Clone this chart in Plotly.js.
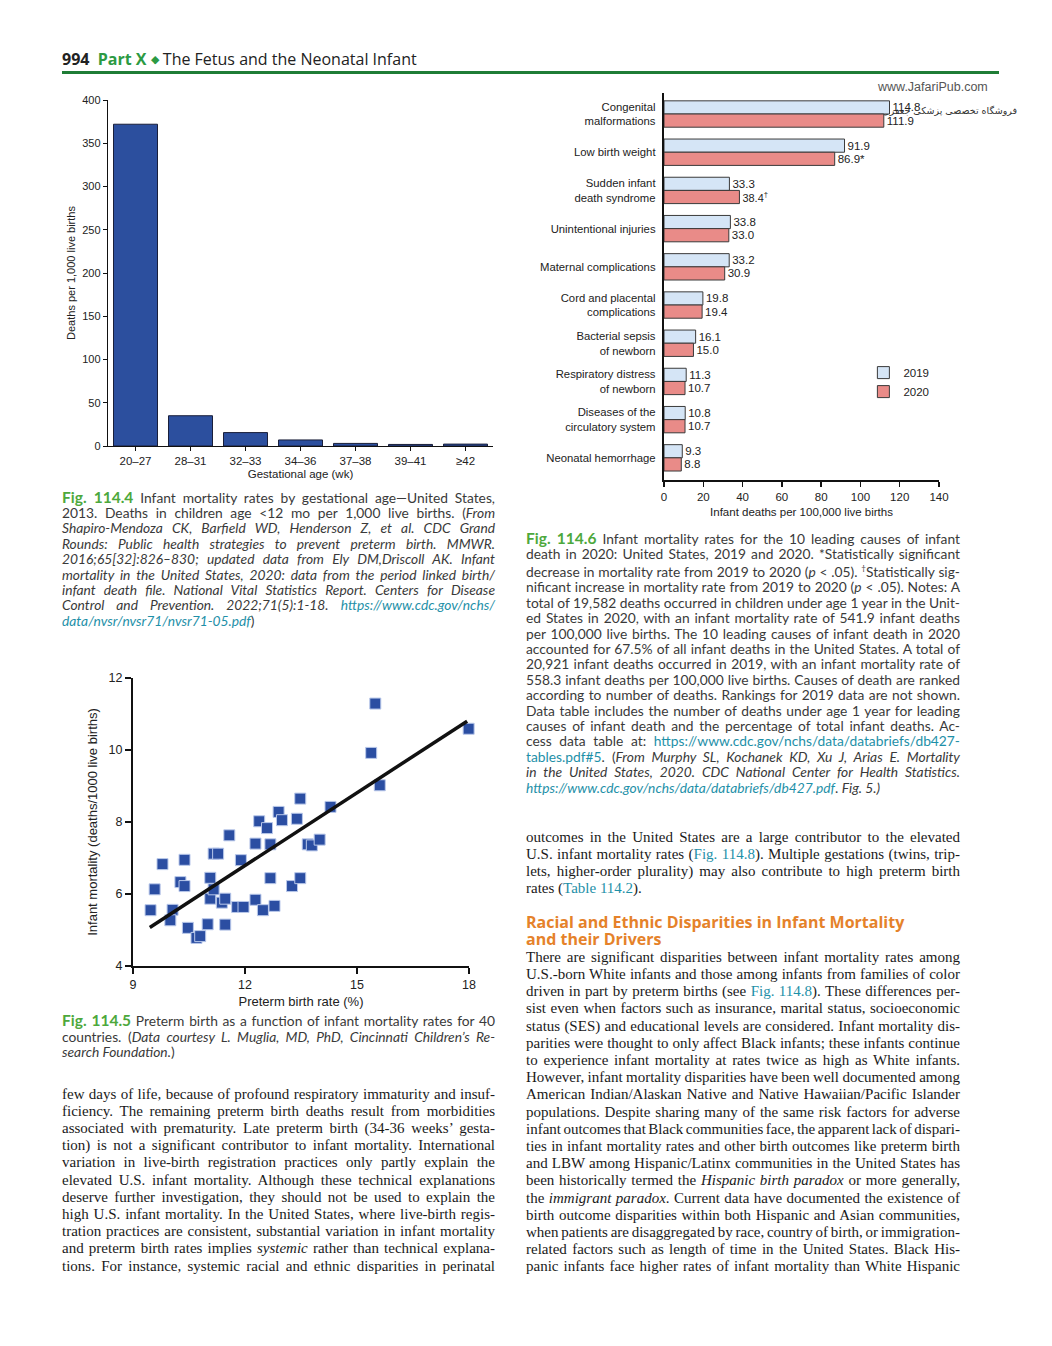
<!DOCTYPE html>
<html><head><meta charset="utf-8">
<script src="https://cdn.plot.ly/plotly-3.0.1.min.js"></script>
<style>
body{margin:0;background:#fff;}
#page{position:relative;width:1052px;height:1346px;overflow:hidden;background:#fff;}
.abs{position:absolute;}
.blk{position:absolute;}
.ln{white-space:nowrap;overflow:visible;}
.cap{font-family:Lato,"Open Sans",sans-serif;font-size:13.8px;color:#3a3a3a;line-height:15.4px;}
.body{font-family:"Liberation Serif","DejaVu Serif",serif;font-size:15px;color:#1a1a1a;line-height:17.2px;}
.fg{color:#4da83c;font-weight:700;font-size:15.5px;}
.lk{color:#1e90a8;}
.head{font-family:"Open Sans",Lato,sans-serif;font-weight:700;font-size:16px;color:#e5822a;line-height:17px;}
</style>
</head><body>
<div id="page">
  <div class="abs" style="left:62px;top:48px;font-family:'Open Sans',Lato,sans-serif;font-size:16px;color:#222;white-space:nowrap;">
    <b>994</b>&nbsp;&nbsp;<span style="color:#2c9a43;font-weight:700;">Part X</span> <span style="color:#2c9a43;font-size:11px;vertical-align:2px;">◆</span> The Fetus and the Neonatal Infant
  </div>
  <div class="abs" style="left:62px;top:71px;width:937px;height:3px;background:#1f7d36;"></div>
  <div class="abs" style="left:878px;top:80px;font-family:'Liberation Sans',Arial,sans-serif;font-size:12.5px;color:#555;">www.JafariPub.com</div>
  <div class="abs" dir="rtl" style="left:855px;top:105px;width:162px;font-family:'DejaVu Sans',sans-serif;font-size:9.5px;color:#333;white-space:nowrap;">فروشگاه تخصصی پزشکی جعفری نوین</div>

  <div id="c1" class="abs" style="left:60px;top:85px;width:440px;height:400px;"></div>
  <div id="c2" class="abs" style="left:530px;top:85px;width:430px;height:445px;"></div>
  <div id="c3" class="abs" style="left:70px;top:665px;width:420px;height:345px;"></div>

  <div id="t1" class="blk cap" style="left:62px;top:489.6px;width:433px;"></div>
  <div id="t2" class="blk cap" style="left:526px;top:530.6px;width:434px;"></div>
  <div id="t3" class="blk cap" style="left:62px;top:1013.3px;width:433px;"></div>
  <div id="t4" class="blk body" style="left:62px;top:1085.6px;width:433px;"></div>
  <div id="t5" class="blk body" style="left:526px;top:828.7px;width:434px;"></div>
  <div id="t6" class="blk head" style="left:526px;top:913.8px;width:434px;"></div>
  <div id="t7" class="blk body" style="left:526px;top:948.7px;width:434px;"></div>
</div>
<script>
// ---------- Fig 114.4 data ----------
const gestCategories = ['20–27','28–31','32–33','34–36','37–38','39–41','≥42'];
const gestDeaths = [372, 35, 15.5, 7, 3, 1.8, 2.2];
const gestYTicks = [0,50,100,150,200,250,300,350,400];

// ---------- Fig 114.6 data ----------
const causes = ['Congenital<br>malformations','Low birth weight','Sudden infant<br>death syndrome','Unintentional injuries','Maternal complications','Cord and placental<br>complications','Bacterial sepsis<br>of newborn','Respiratory distress<br>of newborn','Diseases of the<br>circulatory system','Neonatal hemorrhage'];
const rate2019 = [114.8, 91.9, 33.3, 33.8, 33.2, 19.8, 16.1, 11.3, 10.8, 9.3];
const rate2020 = [111.9, 86.9, 38.4, 33.0, 30.9, 19.4, 15.0, 10.7, 10.7, 8.8];
const marks2020 = ['', '*', '<sup>†</sup>', '', '', '', '', '', '', ''];
const causeXTicks = [0,20,40,60,80,100,120,140];

// ---------- Fig 114.5 data ----------
const pretermRate = [9.47, 9.58, 9.79, 10.06, 10.0, 10.27, 10.38, 10.38, 10.47, 10.70, 10.80, 11.0, 11.07, 11.07, 11.16, 11.16, 11.28, 11.38, 11.47, 11.47, 11.58, 11.79, 11.89, 11.96, 12.28, 12.28, 12.38, 12.48, 12.59, 12.68, 12.68, 12.79, 12.90, 12.99, 13.26, 13.39, 13.48, 13.48, 13.68, 13.79, 14.0, 14.29, 15.38, 15.49, 15.61, 17.99];
const infantMortality = [5.55, 6.13, 6.83, 5.56, 5.27, 6.33, 6.22, 6.95, 5.06, 4.78, 4.83, 5.16, 6.45, 5.87, 6.13, 7.12, 7.12, 5.76, 5.87, 5.15, 7.63, 5.64, 6.94, 5.64, 5.84, 7.40, 8.02, 5.55, 7.83, 7.38, 6.44, 5.67, 8.28, 8.05, 6.22, 8.09, 8.65, 6.44, 7.38, 7.35, 7.51, 8.42, 9.92, 11.29, 9.02, 10.59];
const fitX = [9.45, 17.95];
const fitY = [5.07, 10.8];
const scatterXTicks = [9,12,15,18];
const scatterYTicks = [4,6,8,10,12];

const FONT = 'Liberation Sans, Arial, sans-serif';
const cfg = {staticPlot:true, displayModeBar:false};

// Chart 1
Plotly.newPlot('c1', [{
  type:'bar', x:gestCategories, y:gestDeaths,
  marker:{color:'#2c4f9e', line:{color:'#1a1f3a', width:1}},
  width:0.8
}], {
  width:440, height:400, margin:{l:48, r:7, t:15, b:39},
  paper_bgcolor:'rgba(0,0,0,0)', plot_bgcolor:'rgba(0,0,0,0)',
  font:{family:FONT, size:11, color:'#222'},
  showlegend:false,
  xaxis:{type:'category', range:[-0.5,6.5], showline:true, linecolor:'#111', linewidth:1.2,
    ticks:'outside', ticklen:4, tickcolor:'#111', showgrid:false, zeroline:false,
    tickfont:{size:11.5}, title:{text:'Gestational age (wk)', font:{size:11.5}, standoff:4}},
  yaxis:{range:[0,400], tickvals:gestYTicks, showline:true, linecolor:'#111', linewidth:1.2,
    ticks:'outside', ticklen:4, tickcolor:'#111', showgrid:false, zeroline:false,
    tickfont:{size:11}, title:{text:'Deaths per 1,000 live births', font:{size:11}, standoff:4}}
}, cfg);

// Chart 2
Plotly.newPlot('c2', [
  {type:'bar', orientation:'h', name:'2019', y:causes, x:rate2019,
   text:rate2019.map(v=>v.toFixed(1)), textposition:'outside', cliponaxis:false,
   textfont:{size:11.5, color:'#222'},
   marker:{color:'#d5e5f6', line:{color:'#3a3a3a', width:1}}},
  {type:'bar', orientation:'h', name:'2020', y:causes, x:rate2020,
   text:rate2020.map((v,i)=>v.toFixed(1)+marks2020[i]), textposition:'outside', cliponaxis:false,
   textfont:{size:11.5, color:'#222'},
   marker:{color:'#e98b88', line:{color:'#3a3a3a', width:1}}}
], {
  width:430, height:445, margin:{l:134, r:21, t:8, b:50},
  paper_bgcolor:'rgba(0,0,0,0)', plot_bgcolor:'rgba(0,0,0,0)',
  font:{family:FONT, size:11, color:'#222'},
  barmode:'group', bargap:0.31, bargroupgap:0,
  legend:{x:0.725, y:0.315, xanchor:'left', yanchor:'top', font:{size:11.5}, tracegroupgap:0, itemwidth:30, bgcolor:'rgba(0,0,0,0)'},
  xaxis:{range:[0,140], tickvals:causeXTicks, showline:true, linecolor:'#111', linewidth:2,
    ticks:'outside', ticklen:5, tickwidth:1.5, tickcolor:'#111', showgrid:false, zeroline:false,
    tickfont:{size:11.5},
    title:{text:'Infant deaths per 100,000 live births', font:{size:11.5}, standoff:6}},
  yaxis:{type:'category', range:[9.58,-0.55], showline:true, linecolor:'#111', linewidth:2.2,
    ticks:'', showgrid:false, zeroline:false, ticklabelstandoff:4, tickfont:{size:11.3}}
}, cfg);

// Chart 3
Plotly.newPlot('c3', [
  {type:'scatter', mode:'markers', x:pretermRate, y:infantMortality, cliponaxis:false,
   marker:{symbol:'square', size:11, color:'#2b4ea2', line:{color:'#b9c8ea', width:1}}},
  {type:'scatter', mode:'lines', x:fitX, y:fitY, cliponaxis:false,
   line:{color:'#111', width:3.5}}
], {
  width:420, height:345, margin:{l:63, r:21, t:13, b:44},
  paper_bgcolor:'rgba(0,0,0,0)', plot_bgcolor:'rgba(0,0,0,0)',
  font:{family:FONT, size:12.5, color:'#222'},
  showlegend:false,
  xaxis:{range:[9,18], tickvals:scatterXTicks, showline:true, linecolor:'#111', linewidth:2,
    ticks:'outside', ticklen:6, tickwidth:2, tickcolor:'#111', showgrid:false, zeroline:false,
    title:{text:'Preterm birth rate (%)', font:{size:13}, standoff:6}},
  yaxis:{range:[4,12], tickvals:scatterYTicks, showline:true, linecolor:'#111', linewidth:2,
    ticks:'outside', ticklen:6, tickwidth:2, tickcolor:'#111', showgrid:false, zeroline:false,
    title:{text:'Infant mortality (deaths/1000 live births)', font:{size:13}, standoff:8}}
}, cfg);

// ---------- text ----------
const t1 = [
 '<span class="fg">Fig. 114.4</span> Infant mortality rates by gestational age—United States,',
 '2013. Deaths in children age &lt;12 mo per 1,000 live births. (<i>From</i>',
 '<i>Shapiro-Mendoza CK, Barfield WD, Henderson Z, et al. CDC Grand</i>',
 '<i>Rounds: Public health strategies to prevent preterm birth. MMWR.</i>',
 '<i>2016;65[32]:826–830; updated data from Ely DM,Driscoll AK. Infant</i>',
 '<i>mortality in the United States, 2020: data from the period linked birth/</i>',
 '<i>infant death file. National Vital Statistics Report. Centers for Disease</i>',
 '<i>Control and Prevention. 2022;71(5):1-18.</i> <span class="lk"><i>https://www.cdc.gov/nchs/</i></span>',
 '<span class="lk"><i>data/nvsr/nvsr71/nvsr71-05.pdf</i></span>)'
];
const t2 = [
 '<span class="fg">Fig. 114.6</span> Infant mortality rates for the 10 leading causes of infant',
 'death in 2020: United States, 2019 and 2020. *Statistically significant',
 'decrease in mortality rate from 2019 to 2020 (<i>p</i> &lt; .05). <sup style="font-size:8px">†</sup>Statistically sig-',
 'nificant increase in mortality rate from 2019 to 2020 (<i>p</i> &lt; .05). Notes: A',
 'total of 19,582 deaths occurred in children under age 1 year in the Unit-',
 'ed States in 2020, with an infant mortality rate of 541.9 infant deaths',
 'per 100,000 live births. The 10 leading causes of infant death in 2020',
 'accounted for 67.5% of all infant deaths in the United States. A total of',
 '20,921 infant deaths occurred in 2019, with an infant mortality rate of',
 '558.3 infant deaths per 100,000 live births. Causes of death are ranked',
 'according to number of deaths. Rankings for 2019 data are not shown.',
 'Data table includes the number of deaths under age 1 year for leading',
 'causes of infant death and the percentage of total infant deaths. Ac-',
 'cess data table at: <span class="lk">https://www.cdc.gov/nchs/data/databriefs/db427-</span>',
 '<span class="lk">tables.pdf#5</span>. (<i>From Murphy SL, Kochanek KD, Xu J, Arias E. Mortality</i>',
 '<i>in the United States, 2020. CDC National Center for Health Statistics.</i>',
 '<span class="lk"><i>https://www.cdc.gov/nchs/data/databriefs/db427.pdf</i></span>. <i>Fig. 5.)</i>'
];
const t3 = [
 '<span class="fg">Fig. 114.5</span> Preterm birth as a function of infant mortality rates for 40',
 'countries. (<i>Data courtesy L. Muglia, MD, PhD, Cincinnati Children’s Re-</i>',
 '<i>search Foundation.</i>)'
];
const t4 = [
 'few days of life, because of profound respiratory immaturity and insuf-',
 'ficiency. The remaining preterm birth deaths result from morbidities',
 'associated with prematurity. Late preterm birth (34-36 weeks’ gesta-',
 'tion) is not a significant contributor to infant mortality. International',
 'variation in live-birth registration practices only partly explain the',
 'elevated U.S. infant mortality. Although these technical explanations',
 'deserve further investigation, they should not be used to explain the',
 'high U.S. infant mortality. In the United States, where live-birth regis-',
 'tration practices are consistent, substantial variation in infant mortality',
 'and preterm birth rates implies <i>systemic</i> rather than technical explana-',
 'tions. For instance, systemic racial and ethnic disparities in perinatal'
];
const t5 = [
 'outcomes in the United States are a large contributor to the elevated',
 'U.S. infant mortality rates (<span class="lk">Fig. 114.8</span>). Multiple gestations (twins, trip-',
 'lets, higher-order plurality) may also contribute to high preterm birth',
 'rates (<span class="lk">Table 114.2</span>).'
];
const t6 = ['Racial and Ethnic Disparities in Infant Mortality','and their Drivers'];
const t7 = [
 'There are significant disparities between infant mortality rates among',
 'U.S.-born White infants and those among infants from families of color',
 'driven in part by preterm births (see <span class="lk">Fig. 114.8</span>). These differences per-',
 'sist even when factors such as insurance, marital status, socioeconomic',
 'status (SES) and educational levels are considered. Infant mortality dis-',
 'parities were thought to only affect Black infants; these infants continue',
 'to experience infant mortality at rates twice as high as White infants.',
 'However, infant mortality disparities have been well documented among',
 'American Indian/Alaskan Native and Native Hawaiian/Pacific Islander',
 'populations. Despite sharing many of the same risk factors for adverse',
 'infant outcomes that Black communities face, the apparent lack of dispari-',
 'ties in infant mortality rates and other birth outcomes like preterm birth',
 'and LBW among Hispanic/Latinx communities in the United States has',
 'been historically termed the <i>Hispanic birth paradox</i> or more generally,',
 'the <i>immigrant paradox</i>. Current data have documented the existence of',
 'birth outcome disparities within both Hispanic and Asian communities,',
 'when patients are disaggregated by race, country of birth, or immigration-',
 'related factors such as length of time in the United States. Black His-',
 'panic infants face higher rates of infant mortality than White Hispanic'
];

function fill(id, lines, lastJustified){
  const box = document.getElementById(id);
  const W = box.clientWidth;
  lines.forEach((html,i)=>{
    const d = document.createElement('div'); d.className='ln';
    const s = document.createElement('span'); s.innerHTML = html;
    d.appendChild(s); box.appendChild(d);
    const isLast = (i===lines.length-1) && !lastJustified;
    if(!isLast){
      const w = s.getBoundingClientRect().width;
      const n = (s.textContent.match(/ /g)||[]).length;
      if(n>0) s.style.wordSpacing = ((W-w)/n)+'px';
    }
  });
}
function fillAll(){
  fill('t1', t1, false);
  fill('t2', t2, false);
  fill('t3', t3, false);
  fill('t4', t4, true);
  fill('t5', t5, false);
  const h = document.getElementById('t6');
  t6.forEach(l=>{const d=document.createElement('div');d.className='ln';d.textContent=l;h.appendChild(d);});
  fill('t7', t7, true);
}
if(document.fonts && document.fonts.ready){ document.fonts.ready.then(fillAll); } else fillAll();
</script>
</body></html>
